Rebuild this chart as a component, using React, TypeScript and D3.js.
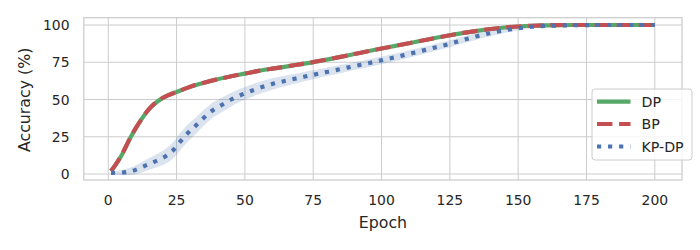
import React from 'react';
import * as d3 from 'd3';

const dpEpochs = [1, 3, 5, 8, 10, 12, 14, 16, 18, 20, 22, 25, 30, 35, 40, 45, 50, 55, 60, 65, 70, 75, 80, 85, 90, 95, 100, 105, 110, 115, 120, 125, 130, 135, 140, 145, 150, 155, 160, 170, 180, 190, 200];
const dpValues = [2, 7, 13, 24, 30.5, 36.3, 41.5, 45.6, 48.7, 51.1, 52.9, 55, 58.5, 61.2, 63.6, 65.6, 67.4, 69.2, 70.7, 72.1, 73.6, 75.1, 76.8, 78.6, 80.5, 82.4, 84.2, 86, 87.8, 89.6, 91.4, 93.1, 94.7, 96.1, 97.3, 98.3, 99, 99.5, 99.8, 100, 100, 100, 100];
const bpValues = [2, 7.2, 13.2, 24.2, 30.6, 36.4, 41.6, 45.7, 48.8, 51.2, 53, 55.1, 58.6, 61.3, 63.6, 65.6, 67.4, 69.2, 70.7, 72.1, 73.6, 75.1, 76.8, 78.6, 80.5, 82.4, 84.2, 86, 87.8, 89.6, 91.4, 93.1, 94.7, 96.1, 97.3, 98.3, 99, 99.5, 99.8, 100, 100, 100, 100];

const kpEpochs = [1, 5, 8, 10, 13, 17, 21, 24, 26, 29, 32, 35, 38, 41.5, 45, 48.5, 52.5, 56, 60, 65, 70, 75, 80, 85, 90, 95, 100, 105, 110, 115, 120, 125, 130, 135, 140, 145, 150, 155, 160, 170, 180, 190, 200];
const kpValues = [0.8, 1, 1.8, 2.8, 5.2, 8.3, 12, 16.5, 21, 27.3, 32.4, 37.8, 42.5, 46.3, 50, 53, 55.9, 58.2, 60.4, 62.6, 64.6, 66.6, 68.5, 70.4, 72.4, 74.3, 76.3, 78.4, 80.6, 82.8, 85.1, 87.4, 90, 92.5, 94.6, 96.4, 97.8, 98.8, 99.4, 99.8, 100, 100, 100];
const kpSpread = [0, 1.8, 2.5, 3, 3.6, 4.3, 5, 5.5, 5.8, 5.8, 5.6, 5.3, 5.1, 4.9, 4.6, 4.4, 4.2, 4, 3.8, 3.5, 3.2, 3, 2.8, 2.7, 2.6, 2.6, 2.6, 2.5, 2.5, 2.5, 2.4, 2.4, 2.3, 2.2, 2, 1.7, 1.3, 0.9, 0.6, 0.3, 0.2, 0.1, 0.1];

const xTicks = [0, 25, 50, 75, 100, 125, 150, 175, 200];
const yTicks = [0, 25, 50, 75, 100];
const legendLabels = ['DP', 'BP', 'KP-DP'];

const GREEN = '#55a868';
const RED = '#c44e52';
const BLUE = '#4c72b0';
const GRID = '#cccccc';
const TEXT = '#262626';
const FONT = '"DejaVu Sans", sans-serif';

export default function App() {
  const left = 83.8, right = 682, top = 17.7, bottom = 180;
  const x = d3.scaleLinear().domain([-8.95, 209.95]).range([left, right]);
  const y = d3.scaleLinear().domain([-4.0, 104.9]).range([bottom, top]);
  const lw = 4.17;

  const line = d3.line<[number, number]>()
    .x(d => x(d[0]))
    .y(d => y(d[1]))
    .curve(d3.curveMonotoneX);

  const dpPts = dpEpochs.map((e, i) => [e, dpValues[i]] as [number, number]);
  const bpPts = dpEpochs.map((e, i) => [e, bpValues[i]] as [number, number]);
  const kpPts = kpEpochs.map((e, i) => [e, kpValues[i]] as [number, number]);

  const area = d3.area<number>()
    .x((_, i) => x(kpEpochs[i]))
    .y0((_, i) => y(kpValues[i] - kpSpread[i]))
    .y1((_, i) => y(kpValues[i] + kpSpread[i]))
    .curve(d3.curveMonotoneX);

  const legendX = 592, legendY = 89;
  const rowY = [101.6, 124, 146.5];
  const styles = [
    { color: GREEN, dash: undefined as string | undefined },
    { color: RED, dash: `${3.7 * lw},${1.6 * lw}` },
    { color: BLUE, dash: `${1 * lw},${1.65 * lw}` },
  ];

  return (
    <svg width={700} height={250} style={{ position: 'absolute', left: 0, top: 0, background: '#fff' }} fontFamily={FONT}>
      <rect x={0} y={0} width={700} height={250} fill="#fff" />
      <defs>
        <clipPath id="plotclip">
          <rect x={left} y={top} width={right - left} height={bottom - top} />
        </clipPath>
      </defs>
      {xTicks.map(t => (
        <line key={'gx' + t} x1={x(t)} x2={x(t)} y1={top} y2={bottom} stroke={GRID} strokeWidth={1} />
      ))}
      {yTicks.map(t => (
        <line key={'gy' + t} x1={left} x2={right} y1={y(t)} y2={y(t)} stroke={GRID} strokeWidth={1} />
      ))}
      <g clipPath="url(#plotclip)">
        <path d={area(kpValues) || ''} fill={BLUE} fillOpacity={0.2} stroke="none" />
        <path d={line(dpPts) || ''} fill="none" stroke={GREEN} strokeWidth={lw} strokeLinecap="butt" />
        <path d={line(bpPts) || ''} fill="none" stroke={RED} strokeWidth={lw} strokeDasharray={styles[1].dash} strokeLinecap="butt" />
        <path d={line(kpPts) || ''} fill="none" stroke={BLUE} strokeWidth={lw} strokeDasharray={styles[2].dash} strokeLinecap="butt" />
      </g>
      <rect x={left} y={top} width={right - left} height={bottom - top} fill="none" stroke={GRID} strokeWidth={1.25} />
      {xTicks.map(t => (
        <text key={'tx' + t} x={x(t)} y={205} textAnchor="middle" fontSize={13.9} fill={TEXT}>{t}</text>
      ))}
      {yTicks.map(t => (
        <text key={'ty' + t} x={69.5} y={y(t)} dy="0.36em" textAnchor="end" fontSize={13.9} fill={TEXT}>{t}</text>
      ))}
      <text x={(left + right) / 2} y={228.3} textAnchor="middle" fontSize={15.8} fill={TEXT}>Epoch</text>
      <text transform={`translate(30, ${(top + bottom) / 2 + 1}) rotate(-90)`} textAnchor="middle" fontSize={15.8} fill={TEXT}>Accuracy (%)</text>
      <rect x={legendX} y={legendY} width={100} height={71} rx={3} ry={3} fill="#fff" fillOpacity={0.8} stroke={GRID} strokeWidth={1} />
      {legendLabels.map((lab, i) => (
        <g key={lab}>
          <line x1={597} x2={630.5} y1={rowY[i]} y2={rowY[i]} stroke={styles[i].color} strokeWidth={lw} strokeDasharray={styles[i].dash} />
          <text x={641.5} y={rowY[i]} dy="0.36em" fontSize={14.2} fill={TEXT}>{lab}</text>
        </g>
      ))}
    </svg>
  );
}
